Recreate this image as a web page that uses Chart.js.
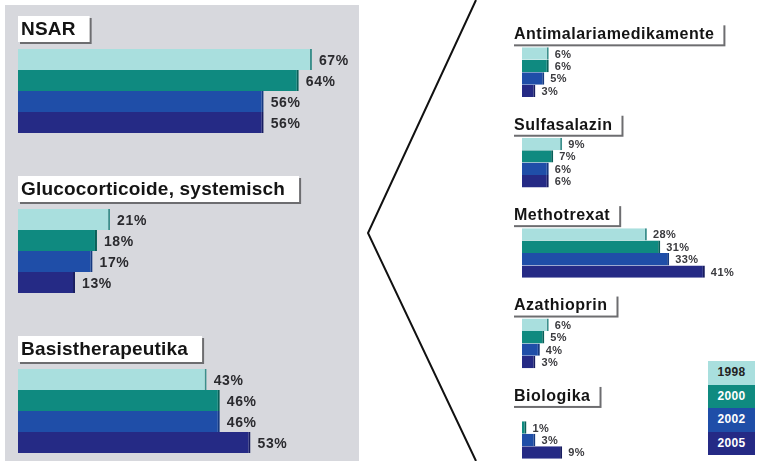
<!DOCTYPE html>
<html><head><meta charset="utf-8">
<script src="https://cdn.jsdelivr.net/npm/chart.js@4"></script>
<style>
html,body{margin:0;padding:0;width:760px;height:461px;overflow:hidden;background:#fff;font-family:"Liberation Sans",Arial,sans-serif;}
#leftBg{position:absolute;left:5px;top:5px;width:354px;height:456px;background:#d7d8dd;}
#leftWrap{position:absolute;left:0;top:0;width:360px;height:500px;}
#rightWrap{position:absolute;left:480px;top:0;width:280px;height:500px;}
#chev{position:absolute;left:0;top:0;}
#legend{position:absolute;left:708px;top:361px;width:47px;}
.lg{height:23.5px;line-height:23.5px;text-align:center;font-weight:bold;font-size:12px;letter-spacing:0.3px;}
</style>
</head><body>
<div id="leftBg"></div>
<svg id="chev" width="760" height="461"><polyline points="476,0 368,233 476,461" fill="none" stroke="#111" stroke-width="2"/></svg>
<div id="leftWrap"><canvas id="leftChart" width="360" height="500"></canvas></div>
<div id="rightWrap"><canvas id="rightChart" width="280" height="500"></canvas></div>
<div id="legend"></div>
<script>
const years = ['1998', '2000', '2002', '2005'];
const yearColors = ['#a9dfde', '#0f8a80', '#1f4ea8', '#252a85'];
const yearEdges = ['#3c8f8c', '#0a5f58', '#163a80', '#181d60'];
const legendText = ['#222', '#fff', '#fff', '#fff'];

const leftCategories = ['NSAR', 'Glucocorticoide, systemisch', 'Basistherapeutika'];
const left1998 = [67, 21, 43];
const left2000 = [64, 18, 46];
const left2002 = [56, 17, 46];
const left2005 = [56, 13, 53];

const rightCategories = ['Antimalariamedikamente', 'Sulfasalazin', 'Methotrexat', 'Azathioprin', 'Biologika'];
const right1998 = [6, 9, 28, 6, null];
const right2000 = [6, 7, 31, 5, 1];
const right2002 = [5, 6, 33, 4, 3];
const right2005 = [3, 6, 41, 3, 9];

const groupPlugin = {
  id: 'groupDeco',
  afterDatasetsDraw(chart, args, o) {
    const ctx = chart.ctx;
    const ys = chart.scales.y;
    const area = chart.chartArea;
    const n = chart.data.labels.length;
    const catH = (area.bottom - area.top) / n;
    const groupH = catH * o.catPct;
    ctx.save();
    chart.data.labels.forEach((lab, i) => {
      const yc = ys.getPixelForValue(i);
      const top = yc - groupH / 2;
      const bBottom = top - o.gap;
      const bTop = bBottom - o.boxH;
      const bLeft = area.left + o.dx;
      ctx.font = 'bold ' + o.titleSize + 'px "Liberation Sans", Arial, sans-serif';
      try { ctx.letterSpacing = o.titleSpacing + 'px'; } catch (e) {}
      const w = ctx.measureText(lab).width + o.padL + o.padR;
      ctx.fillStyle = '#6d6d70';
      ctx.fillRect(bLeft + 2, bTop + 2, w, o.boxH);
      ctx.fillStyle = '#ffffff';
      ctx.fillRect(bLeft, bTop, w, o.boxH);
      ctx.fillStyle = '#141414';
      ctx.textBaseline = 'middle';
      ctx.textAlign = 'left';
      ctx.fillText(lab, bLeft + o.padL, bTop + o.boxH / 2 + 1);
    });
    ctx.font = 'bold ' + o.valSize + 'px "Liberation Sans", Arial, sans-serif';
    try { ctx.letterSpacing = o.valSpacing + 'px'; } catch (e) {}
    ctx.fillStyle = o.valColor;
    ctx.textBaseline = 'middle';
    chart.data.datasets.forEach((ds, di) => {
      const meta = chart.getDatasetMeta(di);
      meta.data.forEach((bar, i) => {
        const v = ds.data[i];
        if (v === null || v === undefined) return;
        ctx.fillText(v + '%', bar.x + o.valGap, bar.y + o.valDy);
      });
    });
    ctx.restore();
  }
};

function makeDatasets(arrs, catPct) {
  return arrs.map((arr, i) => ({
    label: years[i],
    data: arr,
    backgroundColor: yearColors[i],
    borderColor: yearEdges[i],
    borderWidth: {top: 0, bottom: 0, left: 0, right: 2},
    borderSkipped: false,
    categoryPercentage: catPct,
    barPercentage: 1.0
  }));
}

function makeChart(id, labels, arrs, max, padding, catPct, deco) {
  return new Chart(document.getElementById(id), {
    type: 'bar',
    data: {labels: labels, datasets: makeDatasets(arrs, catPct)},
    options: {
      indexAxis: 'y',
      responsive: false,
      animation: false,
      layout: {padding: padding},
      scales: {
        x: {display: false, min: 0, max: max},
        y: {display: false}
      },
      plugins: {
        legend: {display: false},
        tooltip: {enabled: false},
        groupDeco: Object.assign({catPct: catPct}, deco)
      }
    },
    plugins: [groupPlugin]
  });
}

makeChart('leftChart', leftCategories, [left1998, left2000, left2002, left2005], 75,
  {left: 18, right: 13, top: 11, bottom: 9}, 0.525,
  {gap: 7, boxH: 26, dx: 0, padL: 3, padR: 14, titleSize: 19, titleSpacing: 0.2,
   valSize: 14, valSpacing: 0.6, valColor: '#2a2a2e', valGap: 7, valDy: 2});

makeChart('rightChart', rightCategories, [right1998, right2000, right2002, right2005], 50,
  {left: 42, right: 15, top: 27, bottom: 21}, 0.55,
  {gap: 3, boxH: 21, dx: -10, padL: 2, padR: 9, titleSize: 16, titleSpacing: 0.5,
   valSize: 11, valSpacing: 0.4, valColor: '#3a3a3e', valGap: 6, valDy: 1});

const lg = document.getElementById('legend');
years.forEach((y, i) => {
  const d = document.createElement('div');
  d.className = 'lg';
  d.style.background = yearColors[i];
  d.style.color = legendText[i];
  d.textContent = y;
  lg.appendChild(d);
});
</script>
</body></html>
